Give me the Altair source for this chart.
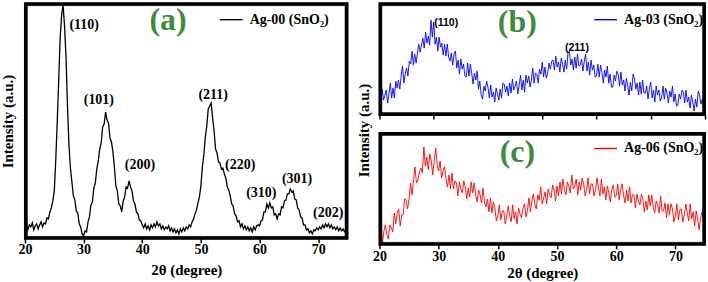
import altair as alt
import pandas as pd

# ---------------- data ----------------
theta_a = [round(20 + 0.25 * i, 2) for i in range(221)]   # 20 .. 75
theta_b = [round(20 + 0.25 * i, 2) for i in range(241)]   # 20 .. 80
theta_c = [round(20 + 0.25 * i, 2) for i in range(221)]   # 20 .. 75

intensity_a = [
    11, 15, 9, 14, 12, 16, 9, 13, 15, 10, 14, 17, 12, 16, 15, 21, 20, 27, 31, 38,
    48, 79, 117, 158, 201, 224, 234, 213, 182, 133, 94, 71, 57, 43, 39, 28, 26, 15, 12, 5,
    3, 8, 7, 17, 22, 34, 37, 51, 56, 70, 78, 90, 96, 112, 115, 127, 119, 116, 101, 97,
    87, 72, 53, 48, 35, 33, 27, 38, 42, 52, 51, 58, 52, 48, 38, 35, 27, 25, 19, 18,
    14, 11, 15, 10, 13, 9, 14, 11, 15, 12, 17, 13, 15, 10, 13, 9, 12, 10, 13, 8,
    11, 7, 10, 6, 9, 5, 10, 7, 11, 8, 12, 10, 14, 12, 17, 20, 25, 29, 36, 42,
    53, 72, 84, 102, 113, 130, 133, 136, 121, 108, 90, 86, 77, 76, 70, 71, 65, 61, 52, 49,
    43, 35, 33, 25, 23, 17, 18, 12, 15, 10, 13, 9, 12, 8, 11, 7, 12, 9, 13, 14,
    13, 18, 19, 27, 27, 35, 31, 36, 31, 32, 24, 25, 20, 25, 24, 32, 31, 38, 39, 45,
    45, 50, 47, 48, 40, 39, 31, 29, 22, 21, 14, 14, 9, 10, 6, 8, 5, 9, 8, 11,
    9, 12, 10, 14, 11, 15, 12, 15, 11, 14, 10, 12, 9, 12, 8, 11, 8, 10, 7, 10, 8,
]

intensity_b = [
    22, 12, 26, 15, 20, 25, 12, 21, 32, 17, 27, 17, 34, 27, 35, 26, 39, 49, 32, 41,
    47, 39, 54, 51, 64, 50, 61, 52, 62, 71, 63, 70, 77, 67, 83, 72, 79, 70, 95, 78,
    93, 71, 78, 64, 78, 68, 72, 60, 71, 59, 71, 58, 54, 62, 50, 61, 64, 47, 55, 41,
    56, 46, 51, 39, 38, 52, 39, 51, 42, 31, 42, 35, 44, 26, 34, 20, 16, 29, 24, 34,
    28, 17, 30, 18, 23, 13, 27, 21, 15, 26, 17, 32, 31, 23, 29, 19, 32, 22, 36, 25,
    29, 34, 21, 30, 40, 25, 35, 23, 40, 32, 39, 28, 35, 47, 32, 42, 41, 32, 46, 41,
    53, 38, 48, 37, 42, 52, 46, 54, 55, 45, 59, 48, 53, 43, 57, 51, 43, 55, 46, 62,
    64, 50, 56, 45, 58, 47, 61, 49, 50, 56, 44, 54, 61, 44, 53, 40, 55, 45, 50, 38,
    39, 51, 38, 50, 43, 32, 45, 38, 49, 32, 41, 28, 28, 40, 34, 44, 41, 29, 43, 30,
    35, 24, 37, 30, 20, 33, 24, 41, 36, 26, 32, 20, 33, 21, 35, 22, 22, 29, 16, 27,
    33, 17, 25, 13, 29, 20, 25, 14, 17, 29, 16, 27, 22, 12, 24, 18, 29, 13, 21, 9,
    10, 21, 16, 25, 23, 12, 25, 13, 18, 7, 20, 13, 4, 16, 8, 24, 20, 11, 16, 5,
    14,
]

intensity_c = [
    9, 20, 1, 14, 20, 10, 6, 20, 17, 13, 32, 21, 32, 36, 19, 30, 30, 46, 45, 36,
    46, 62, 50, 64, 78, 62, 65, 73, 77, 72, 98, 79, 88, 75, 91, 84, 70, 84, 97, 80,
    74, 84, 67, 74, 78, 66, 58, 70, 56, 72, 56, 64, 62, 49, 63, 56, 52, 64, 58, 46,
    57, 48, 63, 52, 62, 50, 43, 55, 50, 42, 57, 42, 38, 46, 33, 47, 32, 43, 37, 24,
    29, 40, 25, 34, 34, 21, 28, 39, 30, 23, 40, 26, 33, 21, 37, 31, 27, 37, 41, 28,
    34, 47, 33, 44, 51, 41, 36, 50, 45, 58, 41, 47, 53, 41, 56, 50, 47, 60, 55, 44,
    59, 49, 63, 51, 66, 55, 50, 63, 59, 52, 70, 56, 59, 66, 50, 63, 55, 67, 61, 49,
    55, 67, 51, 61, 61, 49, 55, 67, 57, 49, 66, 51, 58, 45, 59, 52, 43, 55, 60, 48,
    49, 61, 45, 55, 61, 49, 42, 55, 44, 58, 42, 50, 50, 37, 51, 44, 40, 51, 46, 33,
    44, 35, 50, 39, 50, 38, 32, 44, 40, 32, 49, 34, 34, 42, 27, 41, 30, 41, 36, 23,
    29, 41, 25, 35, 36, 23, 30, 41, 32, 24, 41, 26, 33, 19, 34, 26, 15, 27, 33, 22,
    16,
]

peaks_a_label = ["(110)", "(101)", "(200)", "(211)", "(220)", "(310)", "(301)", "(202)"]
peaks_a_x = [30.1, 32.6, 39.6, 52.1, 56.7, 60.3, 66.4, 71.7]
peaks_a_y = [214, 139, 74, 144, 74, 46, 60, 26]

peaks_b_label = ["(110)", "(211)"]
peaks_b_x = [32.3, 56.4]
peaks_b_y = [92, 67]

panel_label = ["(a)", "(b)", "(c)"]
panel_x = [44.4, 45.4, 43.3]
panel_y = [219, 93, 93]

series_names = ["Ag-00 (SnO\u2082)", "Ag-03 (SnO\u2082)", "Ag-06 (SnO\u2082)"]
series_colors = ["black", "#0000ff", "#ff0000"]

ticks_a = [20, 25, 30, 35, 40, 45, 50, 55, 60, 65, 70, 75]
ticks_b = [20, 25, 30, 35, 40, 45, 50, 55, 60, 65, 70, 75, 80]

# ---------------- tables ----------------
df_a = pd.DataFrame({"theta": theta_a, "I": intensity_a, "sample": series_names[0]})
df_b = pd.DataFrame({"theta": theta_b, "I": intensity_b, "sample": series_names[1]})
df_c = pd.DataFrame({"theta": theta_c, "I": intensity_c, "sample": series_names[2]})
pk_a = pd.DataFrame({"theta": peaks_a_x, "I": peaks_a_y, "label": peaks_a_label})
pk_b = pd.DataFrame({"theta": peaks_b_x, "I": peaks_b_y, "label": peaks_b_label})

SERIF = "Liberation Serif"
GREEN = "#3c8c3c"
FRAME_PX = 2.5


def x_axis(values, show_labels, title, lpad=2, tpad=4):
    kw = dict(values=values, grid=False, domain=False, ticks=True, tickSize=4,
              tickWidth=1.5, tickColor="black")
    if show_labels:
        kw.update(labels=True, labelExpr="datum.value % 10 == 0 ? datum.label : ''",
                  labelFont=SERIF, labelFontWeight="bold", labelFontSize=14,
                  labelColor="black", labelPadding=lpad, labelFlush=False,
                  title=title, titleFont=SERIF, titleFontWeight="bold",
                  titleFontSize=15, titleColor="black", titlePadding=tpad)
    else:
        kw.update(labels=False, title=None)
    return alt.Axis(**kw)


def y_axis(title=None, title_y=None, pad=8):
    kw = dict(labels=False, ticks=False, domain=False, grid=False)
    if title:
        kw.update(title=title, titleFont=SERIF, titleFontWeight="bold",
                  titleFontSize=15, titleColor="black", titlePadding=pad)
        if title_y is not None:
            kw.update(titleY=title_y)
    else:
        kw.update(title=None)
    return alt.Axis(**kw)


def legend(lx, ly):
    return alt.Legend(orient="none", legendX=lx, legendY=ly, title=None,
                      symbolType="stroke", symbolSize=520, symbolStrokeWidth=1.4,
                      labelFont=SERIF, labelFontWeight="bold", labelFontSize=14,
                      labelColor="black", labelOffset=6, padding=0)


def frame_table(xdom, ydom, w, h):
    # four thin filled strips just inside the edges of the plot area
    dx = (xdom[1] - xdom[0]) / w * FRAME_PX
    dy = (ydom[1] - ydom[0]) / h * FRAME_PX
    x0, x1, y0, y1 = xdom[0], xdom[1], ydom[0], ydom[1]
    return pd.DataFrame({
        "xa": [x0, x0, x0, x1 - dx],
        "xb": [x1, x1, x0 + dx, x1],
        "ya": [y0, y1 - dy, y0, y0],
        "yb": [y0 + dy, y1, y1, y1],
    })


def panel(df, pk, idx, xdom, ydom, xaxis, yax, w, h, lx, ly,
          peak_font, peak_size, lw):
    xs = alt.Scale(domain=xdom, nice=False, zero=False)
    ys = alt.Scale(domain=ydom, nice=False, zero=False)
    line = alt.Chart(df).mark_line(strokeWidth=lw).encode(
        x=alt.X("theta:Q", scale=xs, axis=xaxis),
        y=alt.Y("I:Q", scale=ys, axis=yax),
        color=alt.Color("sample:N",
                        scale=alt.Scale(domain=[series_names[idx]], range=[series_colors[idx]]),
                        legend=legend(lx, ly)),
    )
    box = alt.Chart(frame_table(xdom, ydom, w, h)).mark_rect(
        color="black", opacity=1, stroke="black", strokeWidth=0.5).encode(
        x=alt.X("xa:Q", scale=xs), x2="xb:Q", y=alt.Y("ya:Q", scale=ys), y2="yb:Q")
    layers = [line, box]
    if pk is not None:
        layers.append(alt.Chart(pk).mark_text(font=peak_font, fontWeight="bold",
                                              fontSize=peak_size, color="black").encode(
            x=alt.X("theta:Q", scale=xs), y=alt.Y("I:Q", scale=ys), text="label:N"))
    lab = pd.DataFrame({"theta": [panel_x[idx]], "I": [panel_y[idx]], "label": [panel_label[idx]]})
    layers.append(alt.Chart(lab).mark_text(font=SERIF, fontWeight="bold", fontSize=32,
                                           color=GREEN).encode(
        x=alt.X("theta:Q", scale=xs), y=alt.Y("I:Q", scale=ys), text="label:N"))
    return alt.layer(*layers).properties(width=w, height=h)


XT = "2\u03b8 (degree)"
A = panel(df_a, pk_a, 0, [20, 75], [0, 236], x_axis(ticks_a, True, XT, lpad=0, tpad=6),
          y_axis("Intensity (a.u.)", pad=9), 323, 236, 194, 4, SERIF, 14, 1.3)
B = panel(df_b, pk_b, 1, [20, 80], [0, 112], x_axis(ticks_b, False, None),
          y_axis(None), 326, 112, 214, 4, "Liberation Sans", 10.5, 0.9)
C = panel(df_c, None, 2, [20, 75], [0, 112], x_axis(ticks_a, True, XT, lpad=1, tpad=2),
          y_axis("Intensity (a.u.)", title_y=-3, pad=8), 326, 112, 214, 3, SERIF, 14, 0.9)

right = alt.vconcat(B, C, spacing=18, bounds="flush").resolve_scale(color="independent")
chart = alt.hconcat(A, right, spacing=32, bounds="flush").resolve_scale(
    color="independent"
).properties(
    padding={"left": 0, "top": 1, "right": 0, "bottom": 0},
    background="white",
).configure_view(
    stroke="black", strokeWidth=2
)

chart.save("out.html", embed_options={"renderer": "svg", "actions": False})
